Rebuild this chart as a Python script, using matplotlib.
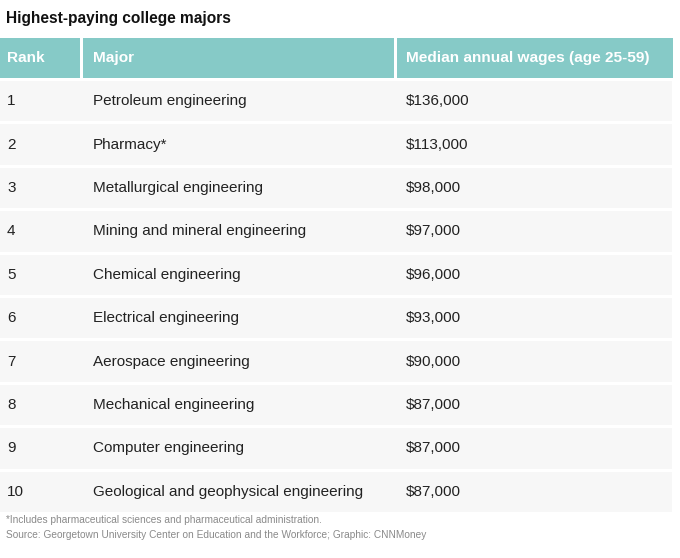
import matplotlib.pyplot as plt
from matplotlib.patches import Rectangle

plt.rcParams['font.family'] = ['Liberation Sans', 'DejaVu Sans']

title = "Highest-paying college majors"
headers = ["Rank", "Major", "Median annual wages (age 25-59)"]
ranks = [1, 2, 3, 4, 5, 6, 7, 8, 9, 10]
majors = ["Petroleum engineering", "Pharmacy*", "Metallurgical engineering",
          "Mining and mineral engineering", "Chemical engineering",
          "Electrical engineering", "Aerospace engineering",
          "Mechanical engineering", "Computer engineering",
          "Geological and geophysical engineering"]
wages = [136000, 113000, 98000, 97000, 96000, 93000, 90000, 87000, 87000, 87000]
notes = ["*Includes pharmaceutical sciences and pharmaceutical administration.",
         "Source: Georgetown University Center on Education and the Workforce; Graphic: CNNMoney"]

fig = plt.figure(figsize=(6.8, 5.58), dpi=100)
ax = fig.add_axes([0, 0, 1, 1])
ax.set_xlim(0, 680)
ax.set_ylim(558, 0)
ax.axis('off')

# column layout (pixels)
col_x = [0, 83, 397]
col_w = [80, 311, 276]
text_x = [7, 93, 406]

teal = '#86cac7'
row_bg = '#f7f7f7'

ax.text(6, 18, title, fontsize=11.2, fontweight='bold', color='#111111', va='center')

# header
hy, hh = 38, 40
for x, w, tx, h in zip(col_x, col_w, text_x, headers):
    ax.add_patch(Rectangle((x, hy), w, hh, color=teal, lw=0))
    ax.text(tx, hy + hh / 2, h, fontsize=11.1, fontweight='bold', color='white', va='center')

# body rows
top = 81
pitch = 43.4
for i, (r, m, wg) in enumerate(zip(ranks, majors, wages)):
    y = top + i * pitch
    ax.add_patch(Rectangle((0, y), 672, pitch - 3, color=row_bg, lw=0))
    cy = y + (pitch - 3) / 2
    ax.text(text_x[0], cy, str(r), fontsize=11, color='#222222', va='center')
    ax.text(text_x[1], cy, m, fontsize=11, color='#222222', va='center')
    ax.text(text_x[2], cy, f"${wg:,}", fontsize=11, color='#222222', va='center')

ax.text(6, 520, notes[0], fontsize=7.3, color='#8a8a8a', va='center')
ax.text(6, 535, notes[1], fontsize=7.3, color='#8a8a8a', va='center')

fig.savefig("out.png", dpi=100)
